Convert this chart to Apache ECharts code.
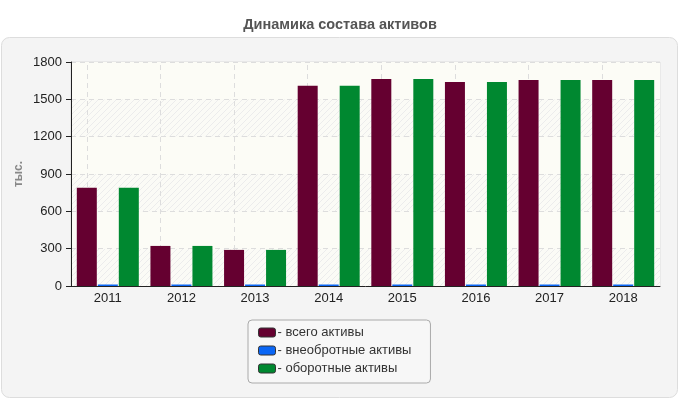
<!DOCTYPE html>
<html>
<head>
<meta charset="utf-8">
<script src="https://cdn.jsdelivr.net/npm/echarts@6/dist/echarts.min.js"></script>
<style>
  html, body { margin: 0; padding: 0; background: #fff; }
  #chart { width: 680px; height: 400px; }
</style>
</head>
<body>
<div id="chart"></div>
<script>
  // годы
  var years = ['2011', '2012', '2013', '2014', '2015', '2016', '2017', '2018'];
  // всего активы
  var totalAssets = [790, 322, 290, 1610, 1663, 1639, 1655, 1655];
  // внеоборотные активы
  var fixedAssets = [12, 12, 12, 12, 12, 12, 12, 12];
  // оборотные активы
  var currentAssets = [790, 322, 290, 1610, 1663, 1639, 1655, 1655];
  var seriesNames = ['всего активы', 'внеобротные активы', 'оборотные активы'];
  var unitName = 'тыс.';

  var chart = echarts.init(document.getElementById('chart'), null, { renderer: 'canvas' });

  //штриховка фона
  var hatch = document.createElement('canvas');
  hatch.width = 6;
  hatch.height = 6;
  var ctx = hatch.getContext('2d');
  ctx.fillStyle = '#fbfbf6';
  ctx.fillRect(0, 0, 6, 6);
  ctx.strokeStyle = '#ececec';
  ctx.lineWidth = 1;
  ctx.beginPath();
  ctx.moveTo(-1, 7); ctx.lineTo(7, -1);
  ctx.moveTo(-1, 1); ctx.lineTo(1, -1);
  ctx.moveTo(5, 7); ctx.lineTo(7, 5);
  ctx.stroke();

  //вертикальные линии сетки по центрам категорий
  var gridLines = years.map(function (y) { return { xAxis: y }; });

  var option = {
    backgroundColor: '#fff',
    animation: false,
    textStyle: { fontFamily: 'Liberation Sans, Arial, sans-serif' },
    title: {
      text: 'Динамика состава активов',
      left: 'center',
      top: 12,
      textStyle: { fontSize: 14.5, fontWeight: 'bold', color: '#555' }
    },
    graphic: [{
      type: 'rect',
      z: -10,
      shape: { x: 1.5, y: 37.5, width: 676, height: 360, r: 8 },
      style: { fill: '#f4f4f4', stroke: '#ddd', lineWidth: 1 }
    }, {
      //подпись единиц оси Y
      type: 'text',
      x: 19,
      y: 174,
      rotation: Math.PI / 2,
      style: {
        text: unitName,
        fill: '#888',
        font: 'bold 12px Liberation Sans, Arial, sans-serif',
        align: 'center',
        verticalAlign: 'middle'
      }
    }],
    legend: {
      orient: 'vertical',
      left: 248,
      top: 320,
      padding: [6, 19, 8, 10],
      itemGap: 5,
      itemWidth: 17,
      itemHeight: 9,
      backgroundColor: '#f7f7f7',
      borderColor: '#aaa',
      borderWidth: 1,
      borderRadius: 4,
      icon: 'roundRect',
      formatter: function (name) { return '- ' + name; },
      textStyle: { fontSize: 13, color: '#333', padding: [0, 0, 0, -3] },
      itemStyle: { borderColor: '#333', borderWidth: 1 },
      data: seriesNames
    },
    grid: {
      left: 71,
      right: 20,
      top: 62,
      bottom: 114,
      show: true,
      backgroundColor: '#fcfcf5',
      borderColor: '#ddd',
      borderWidth: 1
    },
    xAxis: {
      type: 'category',
      data: years,
      axisLine: { lineStyle: { color: '#222', width: 1 } },
      axisTick: { alignWithLabel: true, length: 5, lineStyle: { color: '#222' } },
      axisLabel: { fontSize: 13, color: '#222', margin: 6 },
      splitLine: { show: false }
    },
    yAxis: {
      type: 'value',
      min: 0,
      max: 1800,
      interval: 300,
      axisLine: { show: true, lineStyle: { color: '#222', width: 1 } },
      axisTick: { show: true, length: 5, lineStyle: { color: '#222' } },
      axisLabel: {
        fontSize: 13,
        color: '#222',
        margin: 9,
        formatter: function (v) { return String(v); }
      },
      splitLine: { lineStyle: { color: '#ddd', type: [5, 4] } },
      splitArea: {
        show: true,
        areaStyle: { color: [{ image: hatch, repeat: 'repeat' }, '#fcfcf6'] }
      }
    },
    series: [
      {
        name: seriesNames[0],
        type: 'bar',
        barWidth: 20,
        barGap: '5%',
        itemStyle: { color: '#650030' },
        data: totalAssets,
        markLine: {
          silent: true,
          symbol: 'none',
          label: { show: false },
          lineStyle: { color: '#ddd', type: [5, 4], width: 1 },
          z: 1,
          data: gridLines
        }
      },
      {
        name: seriesNames[1],
        type: 'bar',
        barWidth: 20,
        barGap: '5%',
        itemStyle: { color: '#0a66f5' },
        data: fixedAssets
      },
      {
        name: seriesNames[2],
        type: 'bar',
        barWidth: 20,
        barGap: '5%',
        itemStyle: { color: '#008830' },
        data: currentAssets
      }
    ]
  };

  chart.setOption(option);
</script>
</body>
</html>
